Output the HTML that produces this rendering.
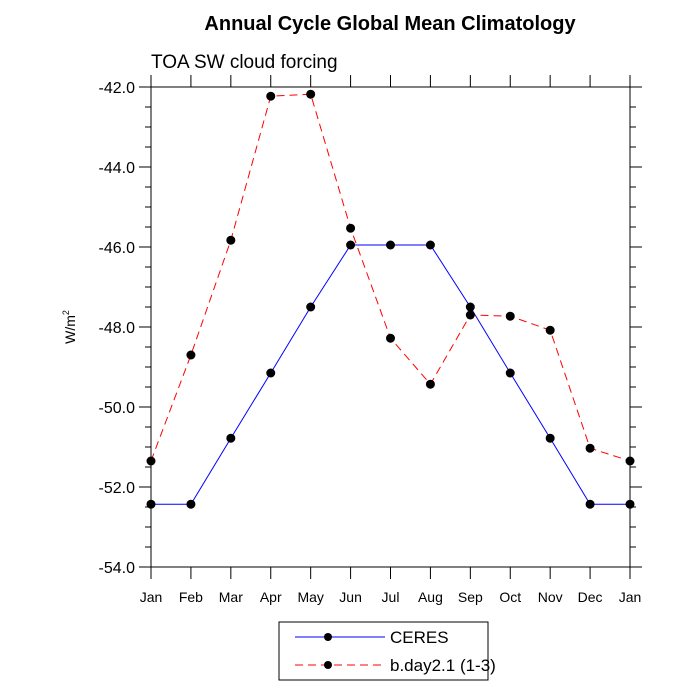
<!DOCTYPE html>
<html><head><meta charset="utf-8"><style>body{margin:0;background:#fff}svg{display:block;font-family:"Liberation Sans",sans-serif}</style></head>
<body>
<svg id="c" width="700" height="700">
<text x="390" y="30" text-anchor="middle" font-size="20" font-weight="bold">Annual Cycle Global Mean Climatology</text>
<text x="151" y="68" font-size="19">TOA SW cloud forcing</text>
<text transform="translate(75,327) rotate(-90)" text-anchor="middle" font-size="14">W/m<tspan dy="-6" font-size="9">2</tspan></text>
<g id="g"></g>
<g>
<rect x="279" y="622" width="209" height="58" fill="#fff" stroke="#000" stroke-width="1"/>
<line x1="295" y1="637" x2="385" y2="637" stroke="#00f"/><circle cx="328" cy="637" r="4"/>
<text x="390" y="643" font-size="17">CERES</text>
<line x1="295" y1="665" x2="385" y2="665" stroke="#f00" stroke-dasharray="8,5"/><circle cx="328" cy="665" r="4"/>
<text x="390" y="671" font-size="17">b.day2.1 (1-3)</text>
</g>
</svg>
<script>
const months=["Jan","Feb","Mar","Apr","May","Jun","Jul","Aug","Sep","Oct","Nov","Dec","Jan"];
const ceres=[-52.43,-52.43,-50.78,-49.15,-47.5,-45.95,-45.95,-45.95,-47.5,-49.15,-50.78,-52.43,-52.43];
const model=[-51.35,-48.7,-45.83,-42.23,-42.18,-45.53,-48.28,-49.43,-47.7,-47.73,-48.08,-51.03,-51.35];
const yTicks=[-42,-44,-46,-48,-50,-52,-54];
const L=151,R=630,T=87,B=567,ymax=-42,ymin=-54;
const xs=i=>L+(R-L)*i/12, ys=v=>T+(ymax-v)/(ymax-ymin)*(B-T);
const g=document.getElementById('g'),NS="http://www.w3.org/2000/svg";
function mk(t,a){const e=document.createElementNS(NS,t);for(const k in a)e.setAttribute(k,a[k]);g.appendChild(e);return e;}
let e=mk('rect',{x:L,y:T,width:R-L,height:B-T,fill:'none',stroke:'#000','stroke-width':1});


for(let v=ymax;v>=ymin-1e-9;v-=0.5){const y=ys(v);const maj=Math.abs(v-Math.round(v/2)*2)<1e-6;const l=maj?12:6;
mk('line',{x1:L-l,y1:y,x2:L,y2:y,stroke:'#000'});mk('line',{x1:R,y1:y,x2:R+l,y2:y,stroke:'#000'});}
yTicks.forEach(v=>{const t=mk('text',{x:L-16,y:ys(v)+6,'text-anchor':'end','font-size':16});t.textContent=v.toFixed(1);

});
months.forEach((m,i)=>{const x=xs(i);mk('line',{x1:x,y1:B,x2:x,y2:B+12,stroke:'#000'});mk('line',{x1:x,y1:T-12,x2:x,y2:T,stroke:'#000'});
const t=mk('text',{x:x,y:B+35,'text-anchor':'middle','font-size':14});t.textContent=m;

});
function series(d,col,dash,name){const p=mk('polyline',{points:d.map((v,i)=>xs(i)+','+ys(v)).join(' '),fill:'none',stroke:col,'stroke-width':1,'stroke-dasharray':dash});


d.forEach((v,i)=>{const c=mk('circle',{cx:xs(i),cy:ys(v),r:4.5,fill:'#000'});

});}
series(ceres,'#00f','none','ceres');
series(model,'#f00','8,5','model');
</script>
</body></html>
